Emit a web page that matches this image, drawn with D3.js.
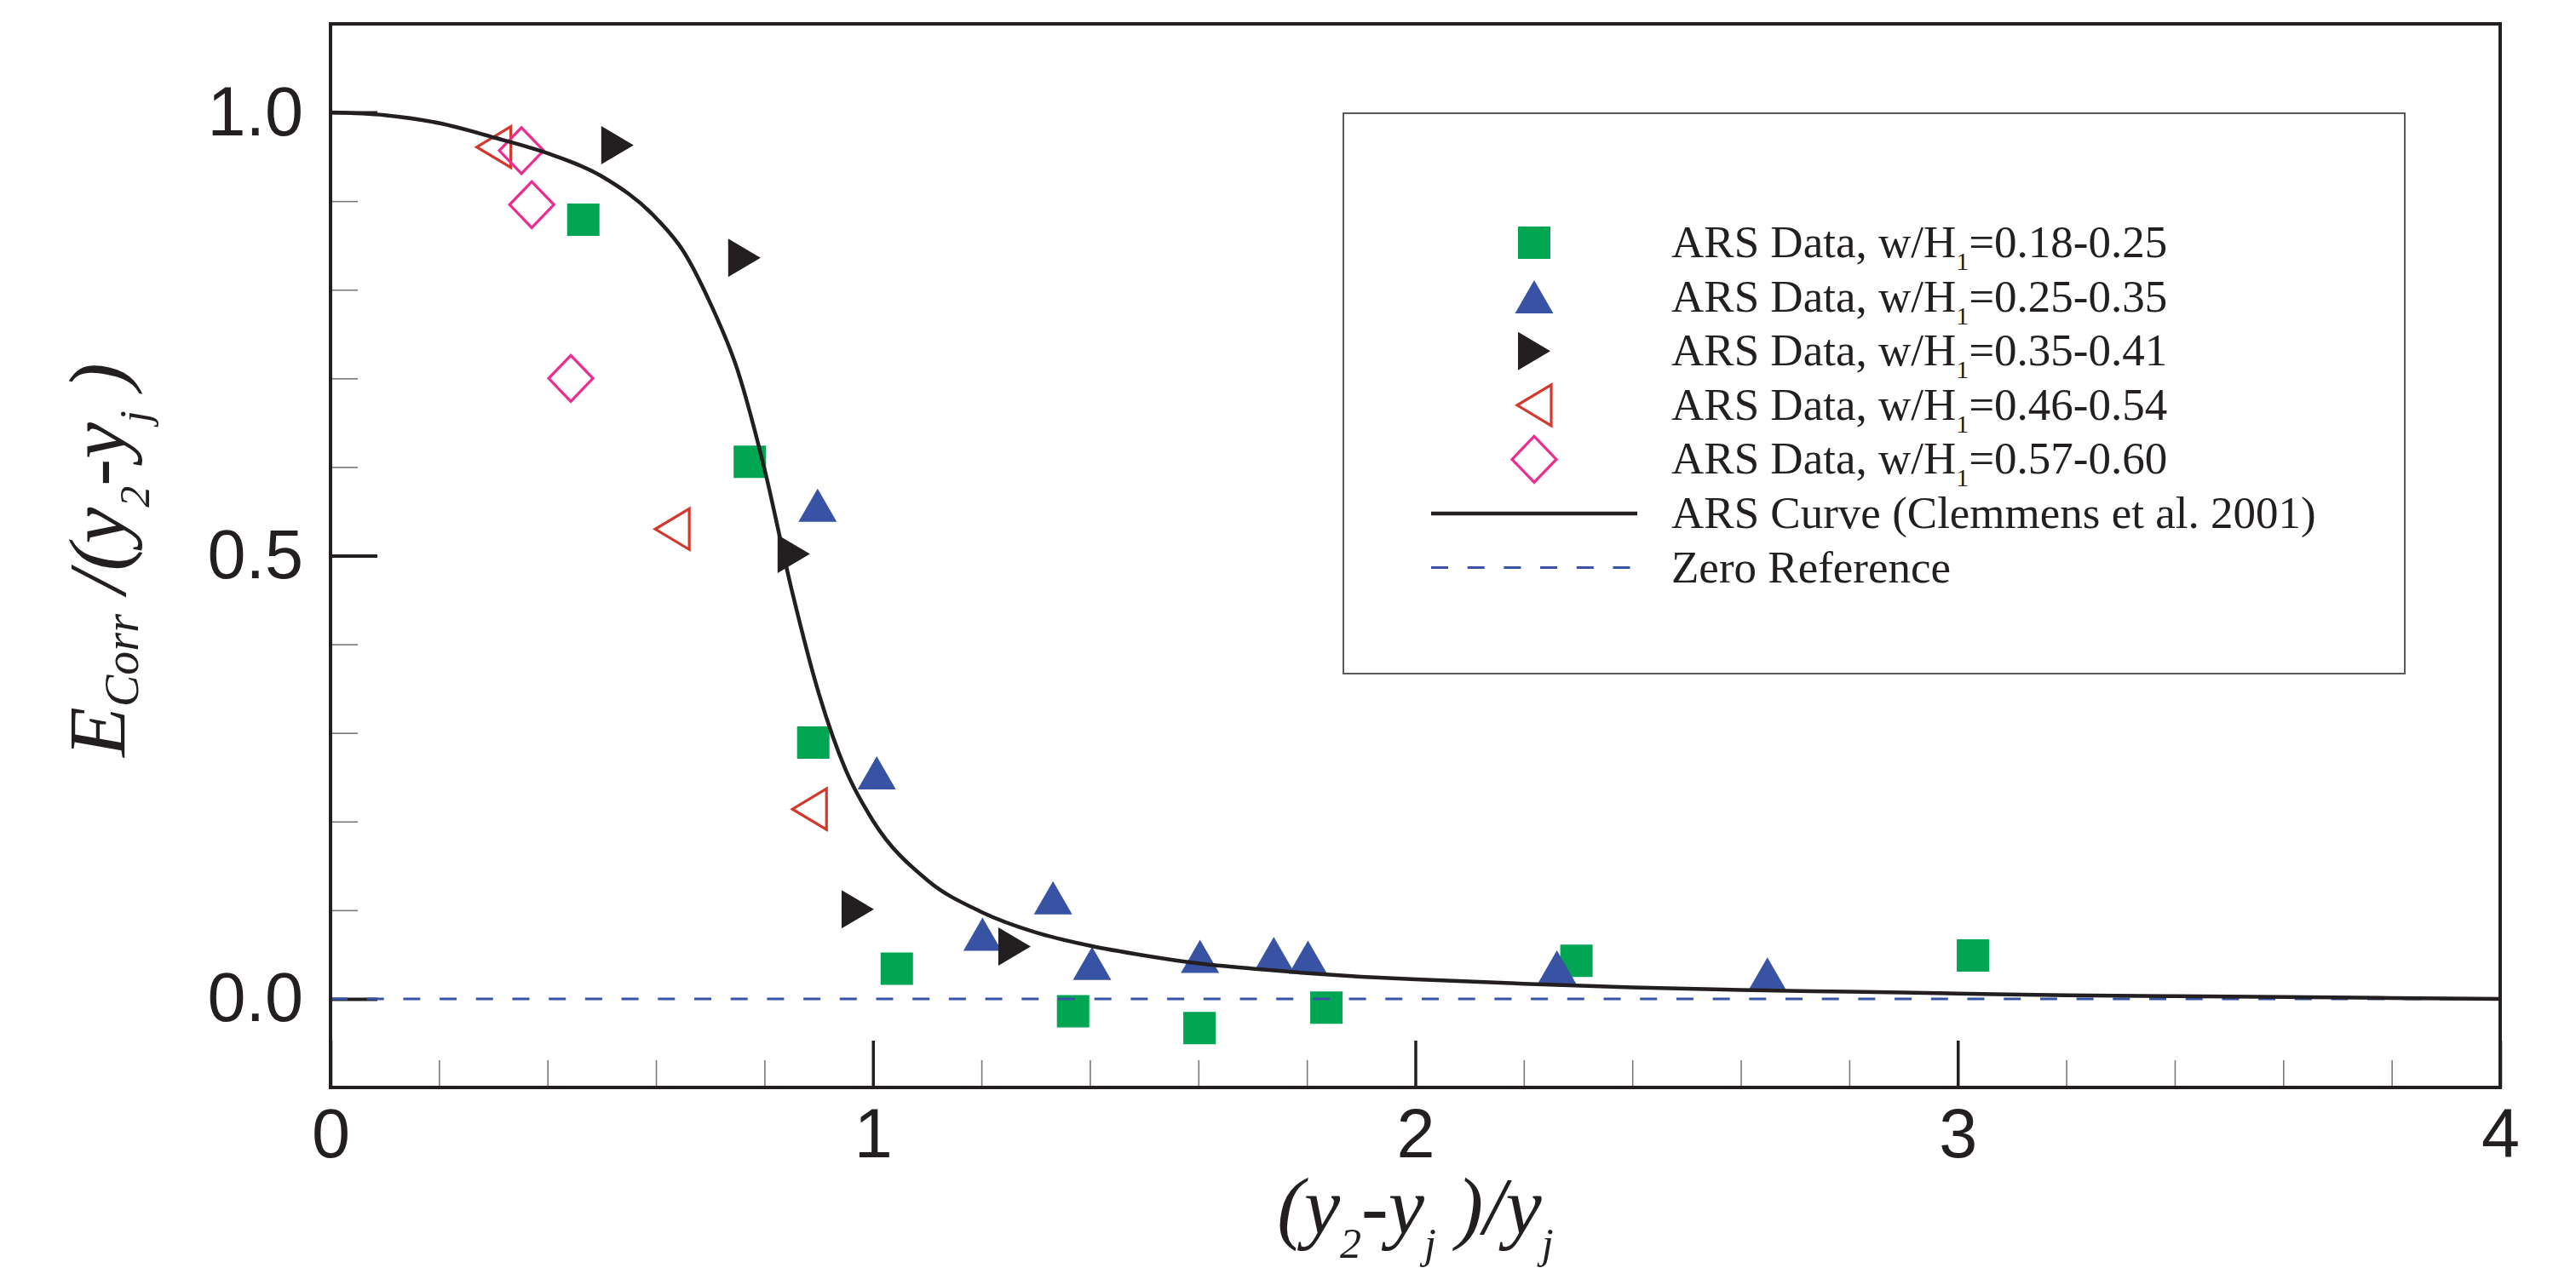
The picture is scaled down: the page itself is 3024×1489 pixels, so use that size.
<!DOCTYPE html>
<html>
<head>
<meta charset="utf-8">
<script src="https://cdn.jsdelivr.net/npm/d3@7"></script>
<style>
  body { margin: 0; background: #fff; }
</style>
</head>
<body>
<div id="chart"></div>
<script>
// ARS curve
const curveX = [0, 0.1, 0.2, 0.3, 0.4, 0.5, 0.6, 0.65, 0.7, 0.75, 0.8, 0.85, 0.9, 0.95, 1.0,
  1.1, 1.2, 1.3, 1.4, 1.5, 1.6, 1.7, 1.8, 1.9, 2.0, 2.2, 2.4, 2.6, 2.8, 3.0, 3.2, 3.4, 3.6, 3.8, 4.0];
const curveY = [1.0, 0.997, 0.988, 0.972, 0.954, 0.928, 0.881, 0.844, 0.785, 0.710, 0.598, 0.462, 0.345, 0.258, 0.201,
  0.134, 0.098, 0.075, 0.060, 0.049, 0.040, 0.034, 0.029, 0.025, 0.022, 0.017, 0.013, 0.010, 0.008, 0.006, 0.004, 0.003, 0.002, 0.001, 0.0];

// ARS data series
const squareX = [0.466, 0.773, 0.890, 1.044, 1.369, 1.602, 1.836, 2.297, 3.028];
const squareY = [0.879, 0.606, 0.289, 0.034, -0.014, -0.033, -0.010, 0.043, 0.049];
const upX = [0.898, 1.007, 1.202, 1.332, 1.404, 1.603, 1.739, 1.802, 2.261, 2.649];
const upY = [0.557, 0.255, 0.073, 0.114, 0.040, 0.048, 0.051, 0.047, 0.036, 0.028];
const rightX = [0.529, 0.763, 0.854, 0.972, 1.261];
const rightY = [0.963, 0.836, 0.502, 0.101, 0.059];
const leftX = [0.301, 0.630, 0.883];
const leftY = [0.961, 0.530, 0.214];
const diamondX = [0.352, 0.371, 0.443];
const diamondY = [0.957, 0.896, 0.700];

const seriesRanges = ["0.18-0.25", "0.25-0.35", "0.35-0.41", "0.46-0.54", "0.57-0.60"];

const xTickValues = [0, 1, 2, 3, 4];
const xMinorValues = [0.2, 0.4, 0.6, 0.8, 1.2, 1.4, 1.6, 1.8, 2.2, 2.4, 2.6, 2.8, 3.2, 3.4, 3.6, 3.8];
const yTickValues = [0, 0.5, 1.0];
const yMinorValues = [0.1, 0.2, 0.3, 0.4, 0.6, 0.7, 0.8, 0.9];

const svgWidth = 3024;
const svgHeight = 1489;
const margin = { top: 28, right: 89, bottom: 212, left: 388 };
const width = svgWidth - margin.left - margin.right;
const height = svgHeight - margin.top - margin.bottom;

const ink = "#231f20";
const sans = "'Liberation Sans', Arial, Helvetica, sans-serif";
const serif = "'Liberation Serif', 'Times New Roman', Times, serif";

const series = [
  { xs: squareX, ys: squareY, shape: "square", color: "#00a651", fill: true },
  { xs: upX, ys: upY, shape: "up", color: "#3953a4", fill: true },
  { xs: rightX, ys: rightY, shape: "right", color: ink, fill: true },
  { xs: leftX, ys: leftY, shape: "left", color: "#d2382c", fill: false },
  { xs: diamondX, ys: diamondY, shape: "diamond", color: "#ec2d8f", fill: false }
];

function markerPath(shape) {
  if (shape === "square") return "M-19,-19H19V19H-19Z";
  if (shape === "up") return "M0,-19.5L22.5,19.5L-22.5,19.5Z";
  if (shape === "right") return "M-19,-22.5L19,0L-19,22.5Z";
  if (shape === "left") return "M20,-24L-20,0L20,24Z";
  return "M0,-27L26,0L0,27L-26,0Z";
}

const root = d3.select("#chart")
  .append("svg")
  .attr("width", svgWidth)
  .attr("height", svgHeight)
  .style("background", "#fff");

const svg = root.append("g")
  .attr("transform", "translate(" + margin.left + "," + margin.top + ")");

const xScale = d3.scaleLinear().domain([0, 4]).range([0, width]);
const yScale = d3.scaleLinear().domain([-0.1, 1.1]).range([height, 0]);

// minor ticks (inside)
svg.append("g")
  .attr("transform", "translate(0," + height + ")")
  .call(d3.axisBottom(xScale).tickValues(xMinorValues).tickFormat("").tickSize(-32))
  .call(g => g.select(".domain").remove())
  .call(g => g.selectAll("line").attr("stroke", "#77787b").attr("stroke-width", 1.6));

svg.append("g")
  .call(d3.axisLeft(yScale).tickValues(yMinorValues).tickFormat("").tickSize(-32))
  .call(g => g.select(".domain").remove())
  .call(g => g.selectAll("line").attr("stroke", "#77787b").attr("stroke-width", 1.6));

// major ticks + labels
svg.append("g")
  .attr("transform", "translate(0," + height + ")")
  .call(d3.axisBottom(xScale).tickValues(xTickValues).tickFormat(d3.format("d")).tickSize(-55).tickPadding(24))
  .call(g => g.select(".domain").remove())
  .call(g => g.selectAll("line").attr("stroke", ink).attr("stroke-width", 3.5))
  .call(g => g.selectAll("text").attr("fill", ink).style("font-family", sans).style("font-size", "81px"));

svg.append("g")
  .call(d3.axisLeft(yScale).tickValues(yTickValues).tickFormat(d3.format(".1f")).tickSize(-55).tickPadding(32))
  .call(g => g.select(".domain").remove())
  .call(g => g.selectAll("line").attr("stroke", ink).attr("stroke-width", 4))
  .call(g => g.selectAll("text").attr("fill", ink).style("font-family", sans).style("font-size", "81px"));

// data markers
series.forEach(function(s) {
  svg.append("g")
    .selectAll("path")
    .data(s.xs.map(function(x, i) { return [x, s.ys[i]]; }))
    .enter()
    .append("path")
    .attr("transform", function(d) {
      return "translate(" + xScale(d[0]) + "," + yScale(d[1]) + ")";
    })
    .attr("d", markerPath(s.shape))
    .attr("fill", s.fill ? s.color : "none")
    .attr("stroke", s.fill ? "none" : s.color)
    .attr("stroke-width", s.fill ? 0 : 3.2);
});

// zero reference
svg.append("line")
  .attr("x1", xScale(0))
  .attr("x2", xScale(4))
  .attr("y1", yScale(0))
  .attr("y2", yScale(0))
  .attr("stroke", "#3953a4")
  .attr("stroke-width", 3)
  .attr("stroke-dasharray", "20 22.7");

// ARS curve
const line = d3.line()
  .curve(d3.curveMonotoneX)
  .x(function(d) { return xScale(d[0]); })
  .y(function(d) { return yScale(d[1]); });

svg.append("path")
  .datum(curveX.map(function(x, i) { return [x, curveY[i]]; }))
  .attr("d", line)
  .attr("fill", "none")
  .attr("stroke", ink)
  .attr("stroke-width", 4.5)
  .attr("stroke-linejoin", "round");

// frame
svg.append("rect")
  .attr("x", 0)
  .attr("y", 0)
  .attr("width", width)
  .attr("height", height)
  .attr("fill", "none")
  .attr("stroke", ink)
  .attr("stroke-width", 4);

// axis titles
const xLabel = svg.append("text")
  .attr("x", width / 2)
  .attr("y", 1449 - margin.top)
  .attr("text-anchor", "middle")
  .attr("fill", ink)
  .style("font-family", serif)
  .style("font-style", "italic")
  .style("font-size", "95px");
xLabel.append("tspan").text("(y");
xLabel.append("tspan").attr("dy", 28).style("font-size", "50px").text("2");
xLabel.append("tspan").attr("dy", -28).text("-y");
xLabel.append("tspan").attr("dy", 28).style("font-size", "50px").text("j");
xLabel.append("tspan").attr("dy", -28).text(" )/y");
xLabel.append("tspan").attr("dy", 28).style("font-size", "50px").text("j");

const yLabel = svg.append("text")
  .attr("transform", "translate(" + (147 - margin.left) + "," + (height / 2 + 5) + ") rotate(-90)")
  .attr("text-anchor", "middle")
  .attr("fill", ink)
  .style("font-family", serif)
  .style("font-style", "italic")
  .style("font-size", "96px");
yLabel.append("tspan").text("E");
yLabel.append("tspan").attr("dy", 15).style("font-size", "56px").text("Corr");
yLabel.append("tspan").attr("dy", -15).text(" /(y");
yLabel.append("tspan").attr("dy", 28).style("font-size", "50px").text("2");
yLabel.append("tspan").attr("dy", -28).text("-y");
yLabel.append("tspan").attr("dy", 28).style("font-size", "50px").text("j");
yLabel.append("tspan").attr("dy", -28).text(" )");

// legend
const legend = root.append("g").attr("class", "legend");
legend.append("rect")
  .attr("x", 1577)
  .attr("y", 133)
  .attr("width", 1246)
  .attr("height", 658)
  .attr("fill", "#fff")
  .attr("stroke", "#58595b")
  .attr("stroke-width", 2);

const rowY = function(i) { return 285 + i * 63.6; };
const symX = 1801;
const textX = 1962;

function legendText(i) {
  return legend.append("text")
    .attr("x", textX)
    .attr("y", rowY(i) + 17)
    .attr("fill", ink)
    .style("font-family", serif)
    .style("font-size", "53px");
}

series.forEach(function(s, i) {
  legend.append("path")
    .attr("transform", "translate(" + symX + "," + rowY(i) + ")")
    .attr("d", markerPath(s.shape))
    .attr("fill", s.fill ? s.color : "none")
    .attr("stroke", s.fill ? "none" : s.color)
    .attr("stroke-width", s.fill ? 0 : 3.2);
  const t = legendText(i);
  t.append("tspan").text("ARS Data, w/H");
  t.append("tspan").attr("dy", 15).style("font-size", "30px").text("1");
  t.append("tspan").attr("dy", -15).text("=" + seriesRanges[i]);
});

legend.append("line")
  .attr("x1", 1680).attr("x2", 1922)
  .attr("y1", rowY(5)).attr("y2", rowY(5))
  .attr("stroke", ink)
  .attr("stroke-width", 4.5);
legendText(5).text("ARS Curve (Clemmens et al. 2001)");

legend.append("line")
  .attr("x1", 1680).attr("x2", 1922)
  .attr("y1", rowY(6)).attr("y2", rowY(6))
  .attr("stroke", "#3953a4")
  .attr("stroke-width", 3)
  .attr("stroke-dasharray", "20 22.7");
legendText(6).text("Zero Reference");
</script>
</body>
</html>
